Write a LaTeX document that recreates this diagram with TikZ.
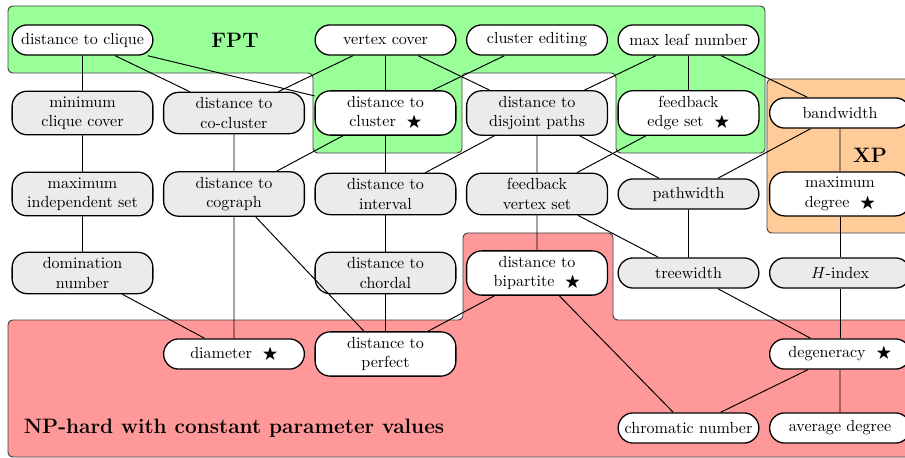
\documentclass[tikz,border=0pt]{standalone}
\usepackage{amssymb}
\usepackage{xcolor}
\usepackage{tikz}
\usetikzlibrary{positioning}
\definecolor{fptgreen}{rgb}{0.6,1.0,0.6}
\definecolor{xporange}{rgb}{1.0,0.8,0.6}
\definecolor{nphred}{rgb}{1.0,0.6,0.6}
\definecolor{lgray}{rgb}{0.92,0.92,0.92}

\begin{document}
\begin{tikzpicture}[
	x=0.02188cm, y=-0.02188cm,
  param/.style={draw,thick,fill=white,rounded corners=0.33cm,
    minimum width=3.08cm,minimum height=0.66cm,align=center},
  gparam/.style={param,fill=lgray},
  region/.style={draw=black!75,rounded corners=0.1cm},
  label/.style={font=\fontsize{13}{15}\selectfont\bfseries},
	semithick]
  \clip (0,0) rectangle (905,458);
  % complexity regions
  \path[region,fill=fptgreen] (8,6) -- (765,6) -- (765,153) -- (616,153)
    -- (616,73) -- (462,73) -- (462,153) -- (313,153) -- (313,73)
    -- (8,73) -- cycle;
  \path[region,fill=xporange] (767,79) rectangle (930,233);
  \path[region,fill=nphred] (8,320) -- (463,320) -- (463,233) -- (613,233)
    -- (613,320) -- (930,320) -- (930,457) -- (8,457) -- cycle;
  \node[label] (fpt) at (235,40) {FPT};
  \node[label] (xp) at (870,155) {XP};
  \node[label,anchor=west] (nph) at (18,428) {NP-hard with constant parameter values};

  % parameters
  \node[param] (dclq) at (82.5,40) {distance to clique};
  \node[param] (vc) at (385.5,40) {vertex cover};
  \node[param] (ce) at (537,40) {cluster editing};
  \node[param] (mln) at (688.5,40) {max leaf number};

  \node[gparam] (mcc) at (82.5,113) {minimum\\clique cover};
  \node[gparam] (dcoc) at (234,113) {distance to\\co-cluster};
  \node[param] (dcl) at (385.5,113) {distance to\\cluster~~$\bigstar$};
  \node[gparam] (ddp) at (537,113) {distance to\\disjoint paths};
  \node[param] (fes) at (688.5,113) {feedback\\edge set~~$\bigstar$};
  \node[param] (bw) at (840,113) {bandwidth};

  \node[gparam] (mis) at (82.5,194) {maximum\\independent set};
  \node[gparam] (dcog) at (234,194) {distance to\\cograph};
  \node[gparam] (dint) at (385.5,194) {distance to\\interval};
  \node[gparam] (fvs) at (537,194) {feedback\\vertex set};
  \node[gparam] (pw) at (688.5,194) {pathwidth};
  \node[param] (maxd) at (840,194) {maximum\\degree~~$\bigstar$};

  \node[gparam] (dom) at (82.5,273) {domination\\number};
  \node[gparam] (dcho) at (385.5,273) {distance to\\chordal};
  \node[param] (dbip) at (537,273) {distance to\\bipartite~~$\bigstar$};
  \node[gparam] (tw) at (688.5,273) {treewidth};
  \node[gparam] (hidx) at (840,273) {$H$-index};

  \node[param] (diam) at (234,354) {diameter~~$\bigstar$};
  \node[param] (dper) at (385.5,354) {distance to\\perfect};
  \node[param] (degn) at (840,354) {degeneracy~~$\bigstar$};

  \node[param] (chrom) at (688.5,428) {chromatic number};
  \node[param] (avgd) at (840,428) {average degree};

  % relations
  \draw (dclq) -- (mcc) (dclq) -- (dcoc) (dclq) -- (dcl);
  \draw (vc) -- (dcoc) (vc) -- (dcl) (vc) -- (ddp);
  \draw (ce) -- (dcl);
  \draw (mln) -- (ddp) (mln) -- (fes) (mln) -- (bw);
  \draw (mcc) -- (mis) (mis) -- (dom) (dom) -- (diam);
  \draw (dcoc) -- (dcog) (dcog) -- (diam) (dcog) -- (dper);
  \draw (dcl) -- (dcog) (dcl) -- (dint);
  \draw (dint) -- (dcho) (dcho) -- (dper);
  \draw (ddp) -- (dint) (ddp) -- (fvs) (ddp) -- (pw);
  \draw (fes) -- (fvs);
  \draw (fvs) -- (dbip) (fvs) -- (tw);
  \draw (bw) -- (pw) (bw) -- (maxd);
  \draw (pw) -- (tw) (tw) -- (degn);
  \draw (maxd) -- (hidx) (hidx) -- (degn);
  \draw (dbip) -- (dper) (dbip) -- (chrom);
  \draw (degn) -- (chrom) (degn) -- (avgd);
\end{tikzpicture}
\end{document}
